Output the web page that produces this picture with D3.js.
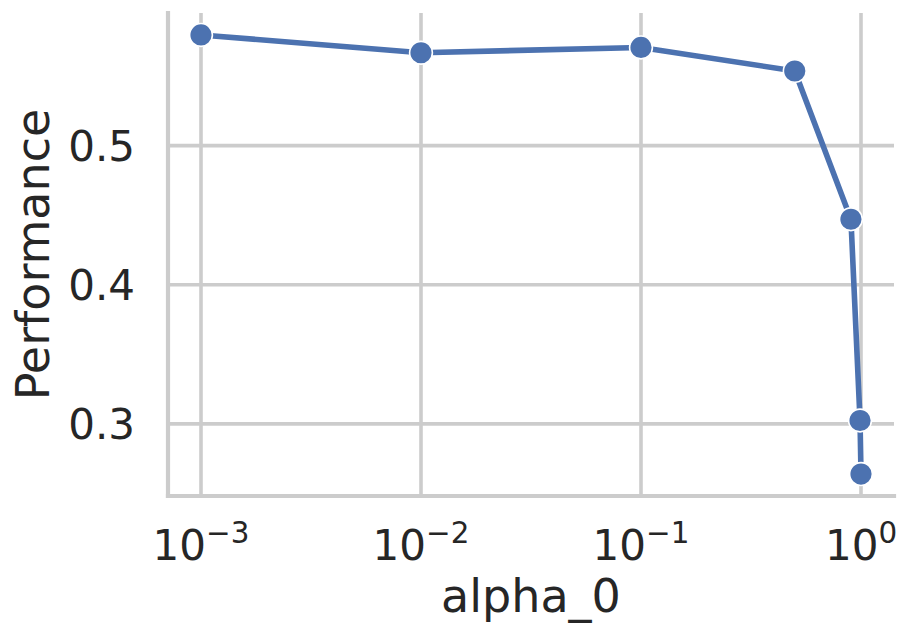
<!DOCTYPE html>
<html>
<head>
<meta charset="utf-8">
<script src="https://cdn.jsdelivr.net/npm/d3@7"></script>
<style>
  body { margin: 0; background: #fff; }
  #chart-container { width: 913px; height: 639px; }
  text { font-family: 'DejaVu Sans', sans-serif; fill: #262626; }
  .grid line { stroke: #cccccc; stroke-width: 3.6; }
  .spine { stroke: #cccccc; stroke-width: 4.2; stroke-linecap: square; }
</style>
</head>
<body>
<div id="chart-container"></div>
<script>
const alphas = [0.001, 0.01, 0.1, 0.5, 0.9, 0.99, 1.0]
const performance = [0.5796, 0.5668, 0.5706, 0.5537, 0.4471, 0.3024, 0.2639]
const xTickValues = [0.001, 0.01, 0.1, 1]
const xTickExponents = ['−3', '−2', '−1', '0']
const yTickValues = [0.3, 0.4, 0.5]
const yTickLabels = ['0.3', '0.4', '0.5']

const data = alphas.map((a, i) => ({ alpha: a, perf: performance[i] }))

const {
  offsetWidth: containerWidth,
  offsetHeight: containerHeight
} = document.getElementById('chart-container')

const margin = { top: 13, right: 19, bottom: 143, left: 168 }
const width = containerWidth - margin.left - margin.right
const height = containerHeight - margin.top - margin.bottom

// matplotlib-style 5% margins (log space for x)
const lx = d3.extent(alphas).map(Math.log10)
const padX = (lx[1] - lx[0]) * 0.05
const x = d3.scaleLog()
  .range([0, width])
  .domain([Math.pow(10, lx[0] - padX), Math.pow(10, lx[1] + padX)])

const ly = d3.extent(performance)
const padY = (ly[1] - ly[0]) * 0.05
const y = d3.scaleLinear()
  .range([height, 0])
  .domain([ly[0] - padY, ly[1] + padY])

const svg = d3.select('#chart-container').append('svg')
  .attr('width', containerWidth)
  .attr('height', containerHeight)
  .append('g')
  .attr('transform', 'translate(' + margin.left + ',' + margin.top + ')')

// grid
svg.append('g')
  .attr('class', 'grid')
  .selectAll('line.v')
  .data(xTickValues)
  .join('line')
  .attr('x1', d => x(d)).attr('x2', d => x(d))
  .attr('y1', 0).attr('y2', height)

svg.append('g')
  .attr('class', 'grid')
  .selectAll('line.h')
  .data(yTickValues)
  .join('line')
  .attr('x1', 0).attr('x2', width)
  .attr('y1', d => y(d)).attr('y2', d => y(d))

// spines (left and bottom only)
svg.append('line').attr('class', 'spine')
  .attr('x1', 0).attr('x2', 0).attr('y1', 0).attr('y2', height)
svg.append('line').attr('class', 'spine')
  .attr('x1', 0).attr('x2', width).attr('y1', height).attr('y2', height)

// x tick labels as 10^n
const xLabels = svg.append('g')
  .selectAll('text')
  .data(xTickValues)
  .join('text')
  .attr('x', d => x(d))
  .attr('y', height + 64)
  .attr('text-anchor', 'middle')
  .style('font-size', '42px')
xLabels.append('tspan').text('10')
xLabels.append('tspan')
  .attr('dy', -17)
  .style('font-size', '29.4px')
  .text((d, i) => xTickExponents[i])

// y tick labels
svg.append('g')
  .selectAll('text')
  .data(yTickValues)
  .join('text')
  .attr('x', -33)
  .attr('y', d => y(d))
  .attr('dy', '0.36em')
  .attr('text-anchor', 'end')
  .style('font-size', '42px')
  .text((d, i) => yTickLabels[i])

// axis labels
svg.append('text')
  .attr('x', width / 2)
  .attr('y', height + 116)
  .attr('text-anchor', 'middle')
  .style('font-size', '46px')
  .text('alpha_0')

svg.append('text')
  .attr('transform', 'rotate(-90)')
  .attr('x', -height / 2)
  .attr('y', -119)
  .attr('text-anchor', 'middle')
  .style('font-size', '46px')
  .text('Performance')

// line
const perfLine = d3.line()
  .x(d => x(d.alpha))
  .y(d => y(d.perf))

svg.append('path')
  .datum(data)
  .attr('d', perfLine)
  .attr('fill', 'none')
  .attr('stroke', '#4c72b0')
  .attr('stroke-width', 5.6)
  .attr('stroke-linejoin', 'round')
  .attr('stroke-linecap', 'round')

svg.append('g')
  .selectAll('circle')
  .data(data)
  .join('circle')
  .attr('cx', d => x(d.alpha))
  .attr('cy', d => y(d.perf))
  .attr('r', 11.4)
  .attr('fill', '#4c72b0')
  .attr('stroke', '#fff')
  .attr('stroke-width', 1.6)
</script>
</body>
</html>
